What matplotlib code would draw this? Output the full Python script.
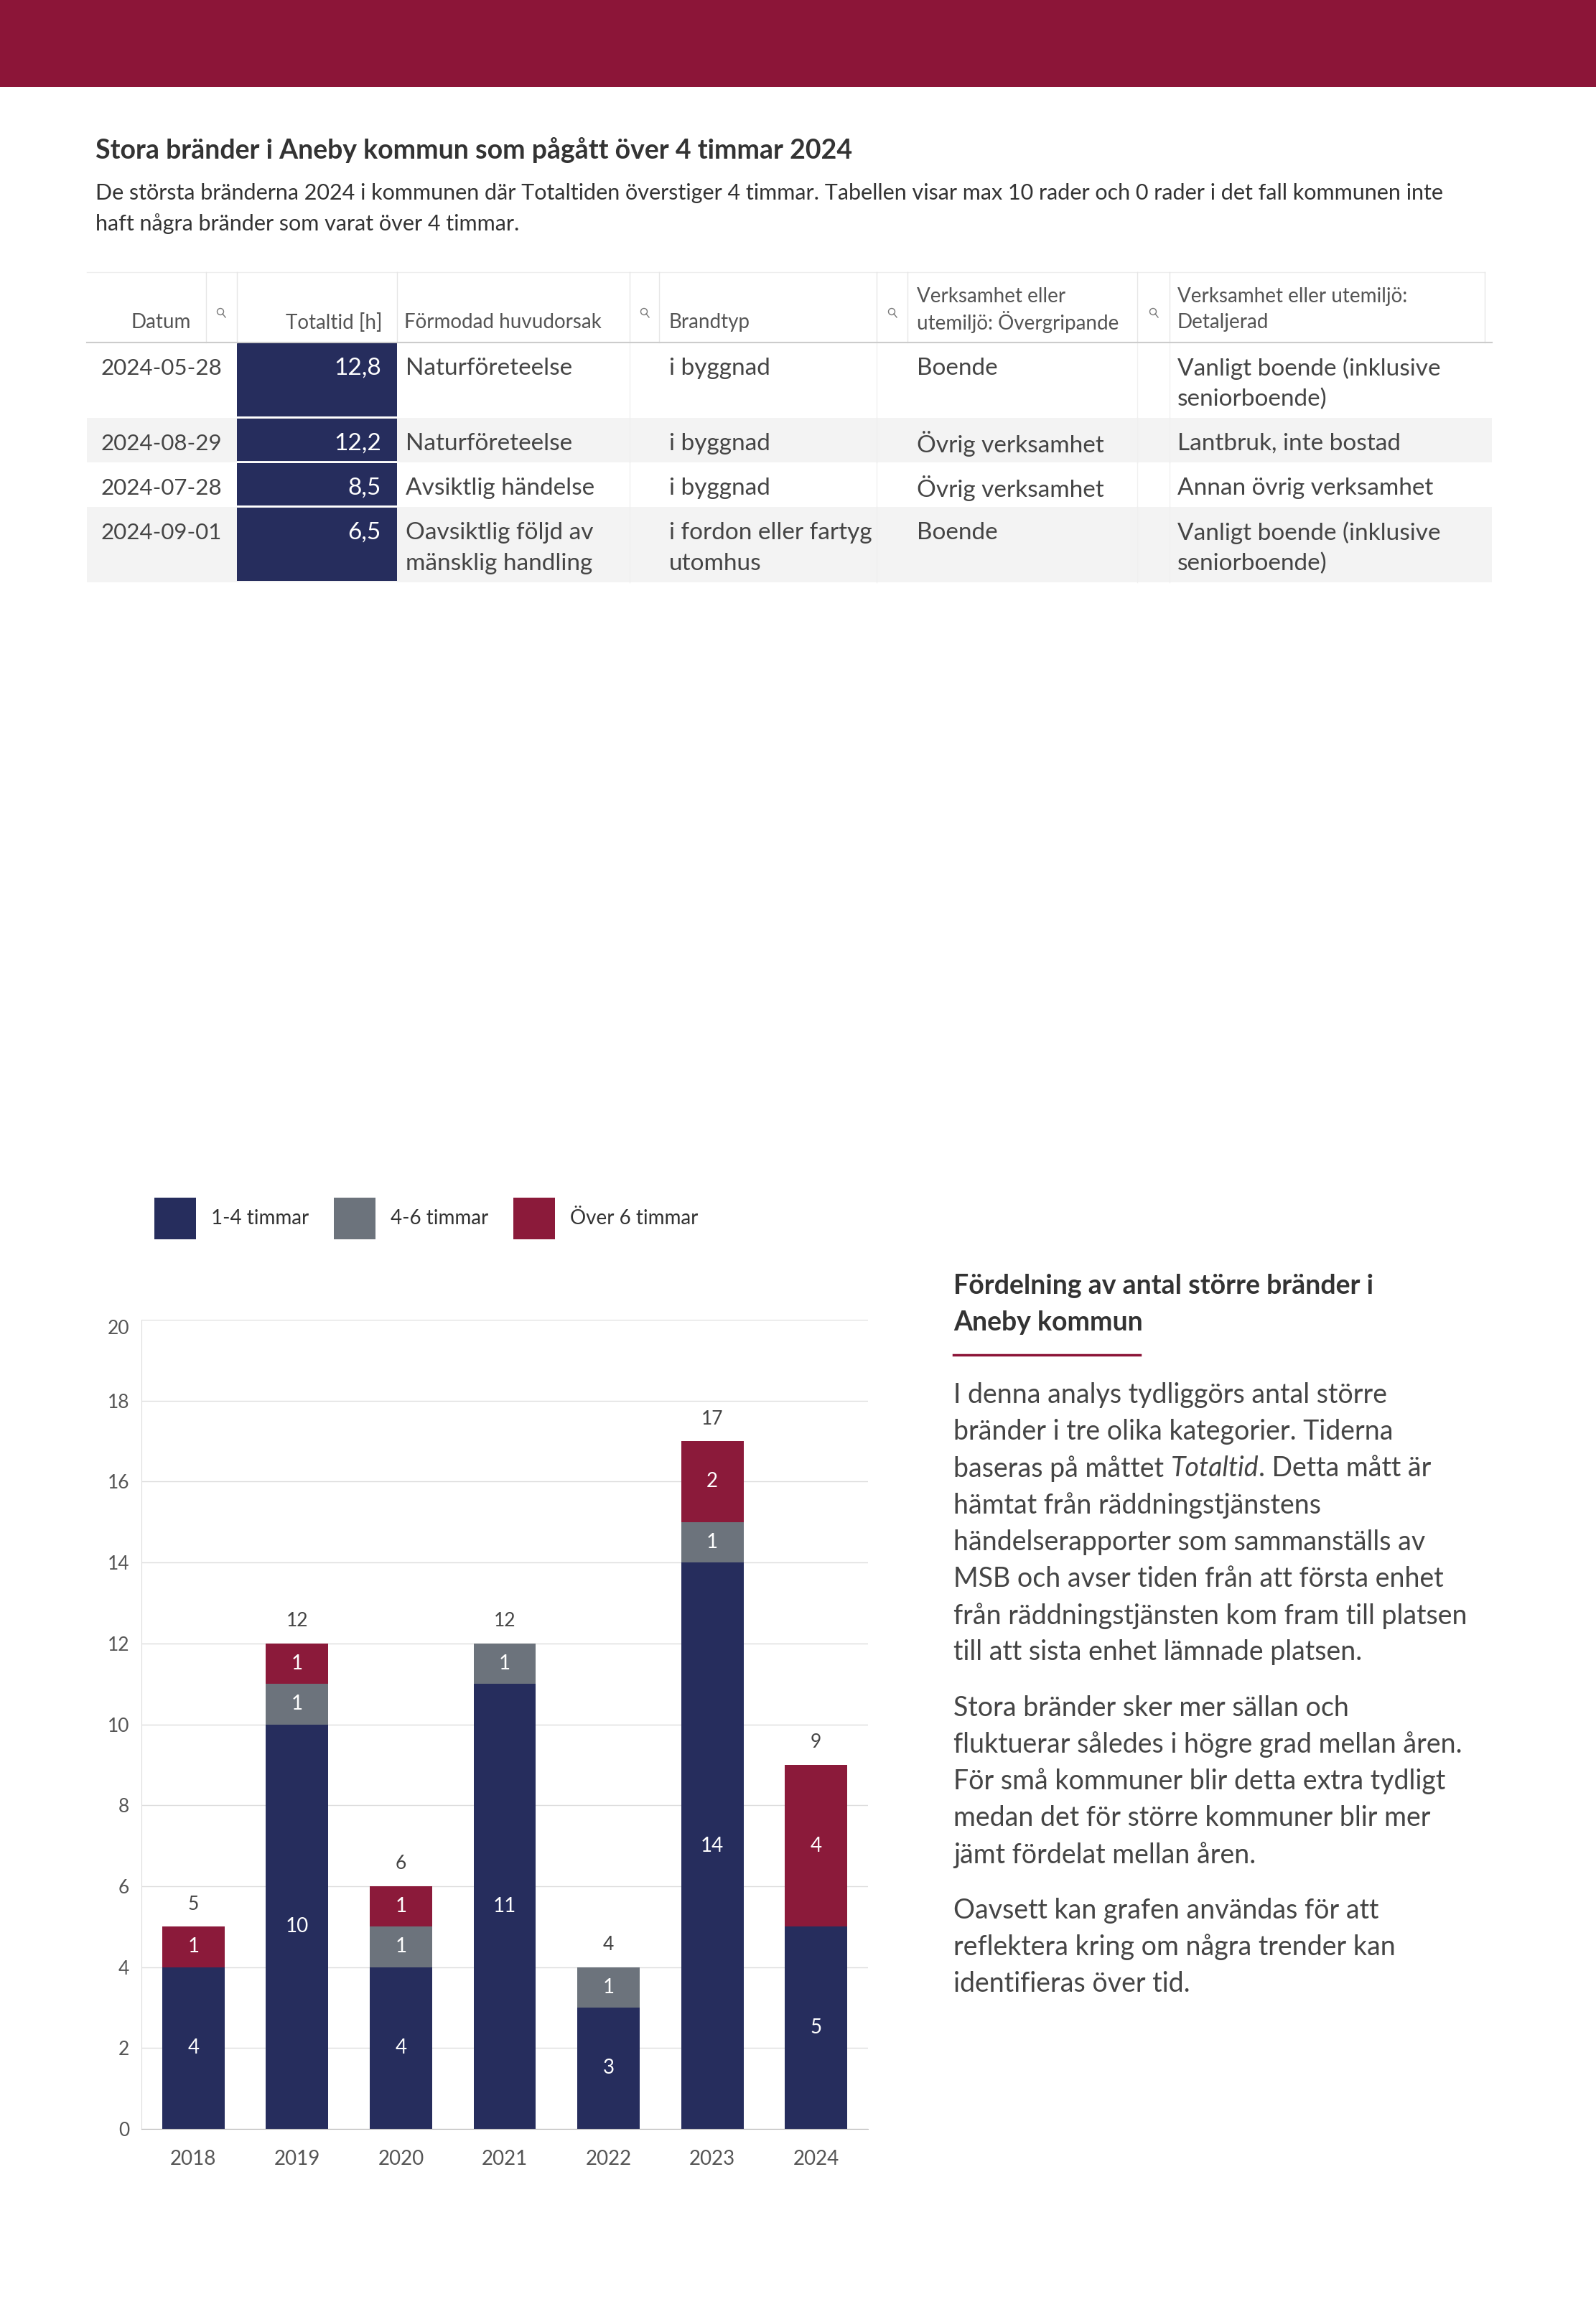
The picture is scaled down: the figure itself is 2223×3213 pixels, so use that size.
import matplotlib
matplotlib.use('Agg')
import numpy as np
import matplotlib.pyplot as plt
from matplotlib.patches import Rectangle, Circle

plt.rcParams['font.family'] = ['Lato', 'DejaVu Sans']

# bar chart data
years = ['2018', '2019', '2020', '2021', '2022', '2023', '2024']
h_1_4 = [4, 10, 4, 11, 3, 14, 5]
h_4_6 = [0, 1, 1, 1, 1, 1, 0]
h_over6 = [1, 1, 1, 0, 0, 2, 4]
series_names = ['1-4 timmar', '4-6 timmar', 'Över 6 timmar']
colors = ['#262D5D', '#6C737C', '#8B1A3A']

# table data
headers = ['Datum', 'Totaltid [h]', 'Förmodad huvudorsak', 'Brandtyp',
           'Verksamhet eller\nutemiljö: Övergripande', 'Verksamhet eller utemiljö:\nDetaljerad']
datum = ['2024-05-28', '2024-08-29', '2024-07-28', '2024-09-01']
totaltid = [12.8, 12.2, 8.5, 6.5]
orsak = ['Naturföreteelse', 'Naturföreteelse', 'Avsiktlig händelse', 'Oavsiktlig följd av\nmänsklig handling']
brandtyp = ['i byggnad', 'i byggnad', 'i byggnad', 'i fordon eller fartyg\nutomhus']
verks_over = ['Boende', 'Övrig verksamhet', 'Övrig verksamhet', 'Boende']
verks_det = ['Vanligt boende (inklusive\nseniorboende)', 'Lantbruk, inte bostad',
             'Annan övrig verksamhet', 'Vanligt boende (inklusive\nseniorboende)']

title = 'Stora bränder i Aneby kommun som pågått över 4 timmar 2024'
subtitle = ['De största bränderna 2024 i kommunen där Totaltiden överstiger 4 timmar. Tabellen visar max 10 rader och 0 rader i det fall kommunen inte',
            'haft några bränder som varat över 4 timmar.']

side_head = ['Fördelning av antal större bränder i', 'Aneby kommun']
side_body = [
    ['I denna analys tydliggörs antal större',
     'bränder i tre olika kategorier. Tiderna',
     'baseras på måttet *Totaltid*. Detta mått är',
     'hämtat från räddningstjänstens',
     'händelserapporter som sammanställs av',
     'MSB och avser tiden från att första enhet',
     'från räddningstjänsten kom fram till platsen',
     'till att sista enhet lämnade platsen.'],
    ['Stora bränder sker mer sällan och',
     'fluktuerar således i högre grad mellan åren.',
     'För små kommuner blir detta extra tydligt',
     'medan det för större kommuner blir mer',
     'jämt fördelat mellan åren.'],
    ['Oavsett kan grafen användas för att',
     'reflektera kring om några trender kan',
     'identifieras över tid.'],
]

W, H = 2223, 3213
navy = colors[0]
maroon = '#8C1538'
txt = '#454545'

fig = plt.figure(figsize=(W / 100, H / 100), dpi=100)
page = fig.add_axes([0, 0, 1, 1])
page.set_xlim(0, W)
page.set_ylim(H, 0)
page.axis('off')

# top banner
page.add_patch(Rectangle((0, 0), W, 121, color=maroon, lw=0))

page.text(133, 209, title, fontsize=27, fontweight='bold', color='#333333', va='center')
for i, line in enumerate(subtitle):
    page.text(133, 269 + 43 * i, line, fontsize=22, color='#333333', va='center')

# table
tab_l, tab_r = 121, 2068
hdr_top, hdr_bot = 379, 477
col_edges = [287, 330, 553, 877, 918, 1221, 1264, 1584, 1629, 2068]
page.plot([tab_l, tab_r], [hdr_top, hdr_top], color='#EEEEEE', lw=1)
for xe in col_edges:
    page.plot([xe, xe], [hdr_top, hdr_bot], color='#E6E6E6', lw=1)

hdr_x = [(266, 'right'), (533, 'right'), (563, 'left'), (932, 'left'), (1277, 'left'), (1640, 'left')]
for (xh, ha), label in zip(hdr_x, headers):
    lines = label.split('\n')
    for j, line in enumerate(lines[::-1]):
        page.text(xh, 449 - 36 * j, line, fontsize=20, color='#555555', ha=ha, va='center')

for xi in [307, 897, 1242, 1606]:
    page.add_patch(Circle((xi, 434), 4.5, fill=False, ec='#777777', lw=1))
    page.plot([xi + 3, xi + 7], [437, 442], color='#777777', lw=1)

top = hdr_bot
cols_x = [565, 932, 1277, 1640]
for i in range(len(datum)):
    cells = [orsak[i], brandtyp[i], verks_over[i], verks_det[i]]
    n = max(c.count('\n') + 1 for c in cells)
    h = 19 + 43 * n
    if i % 2 == 1:
        page.add_patch(Rectangle((tab_l, top), tab_r - tab_l + 10, h, color='#F3F3F3', lw=0))
    for xe in [877, 1221, 1584, 1629]:
        page.plot([xe, xe], [top, top + h], color='#F0F0F0', lw=1)
    page.add_patch(Rectangle((330, top + 1.5), 223, h - 3, color=navy, lw=0))
    page.text(141, top + 36, datum[i], fontsize=22.5, color=txt, va='center')
    page.text(531, top + 36, f'{totaltid[i]:.1f}'.replace('.', ','), fontsize=24,
              color='white', ha='right', va='center')
    for xc, c in zip(cols_x, cells):
        for j, line in enumerate(c.split('\n')):
            page.text(xc, top + 36 + 43 * j, line, fontsize=24, color=txt, va='center')
    top += h
page.plot([tab_l, tab_r + 10], [hdr_bot, hdr_bot], color='#CCCCCC', lw=1.5)

# side text
for i, line in enumerate(side_head):
    page.text(1328, 1791 + 51 * i, line, fontsize=27, fontweight='bold', color='#333333', va='center')
page.plot([1328, 1588], [1887, 1887], color=maroon, lw=2.5)

r = fig.canvas.get_renderer()
y = 1943
for para in side_body:
    for line in para:
        xcur = 1328
        for k, seg in enumerate(line.split('*')):
            if not seg:
                continue
            t = page.text(xcur, y, seg, fontsize=27, color=txt, va='center',
                          style='italic' if k % 2 == 1 else 'normal')
            xcur += t.get_window_extent(renderer=r).width
        y += 51.2
    y += 26

# bar chart
ax = fig.add_axes([197 / W, 1 - 2965 / H, (1209 - 197) / W, (2965 - 1838) / H])
x = np.arange(len(years))
bottom = np.zeros(len(years))
handles = []
for vals, name, c in zip([h_1_4, h_4_6, h_over6], series_names, colors):
    vals = np.array(vals)
    b = ax.bar(x, vals, 0.6, bottom=bottom, color=c, label=name, zorder=2)
    handles.append(b)
    for xi, v, bt in zip(x, vals, bottom):
        if v > 0:
            ax.text(xi, bt + v / 2, str(v), ha='center', va='center', color='white', fontsize=20, zorder=3)
    bottom += vals
for xi, tot in zip(x, bottom):
    ax.text(xi, tot + 0.55, str(int(tot)), ha='center', va='center', color='#444444', fontsize=19)

ax.set_xlim(-0.5, 6.5)
ax.set_ylim(0, 20)
ax.set_yticks(range(0, 21, 2))
ax.set_xticks(x)
ax.set_xticklabels(years)
ax.grid(axis='y', color='#DDDDDD', lw=1)
ax.set_axisbelow(True)
for s in ['top', 'right']:
    ax.spines[s].set_visible(False)
ax.spines['left'].set_color('#DDDDDD')
ax.spines['bottom'].set_color('#BBBBBB')
ax.tick_params(axis='both', length=0, labelcolor='#555555')
ax.tick_params(axis='y', labelsize=19, pad=12)
ax.tick_params(axis='x', labelsize=20, pad=21)
ax.get_yticklabels()[-1].set_verticalalignment('top')

fig.legend(handles=handles, loc='upper left', bbox_to_anchor=(215 / W, 1 - 1668 / H), ncol=3,
           frameon=False, fontsize=20, handlelength=2.09, handleheight=2.84, handletextpad=0.75,
           columnspacing=1.25, borderpad=0, borderaxespad=0, labelcolor='#333333')

fig.savefig('out.png', dpi=100, facecolor='white')
